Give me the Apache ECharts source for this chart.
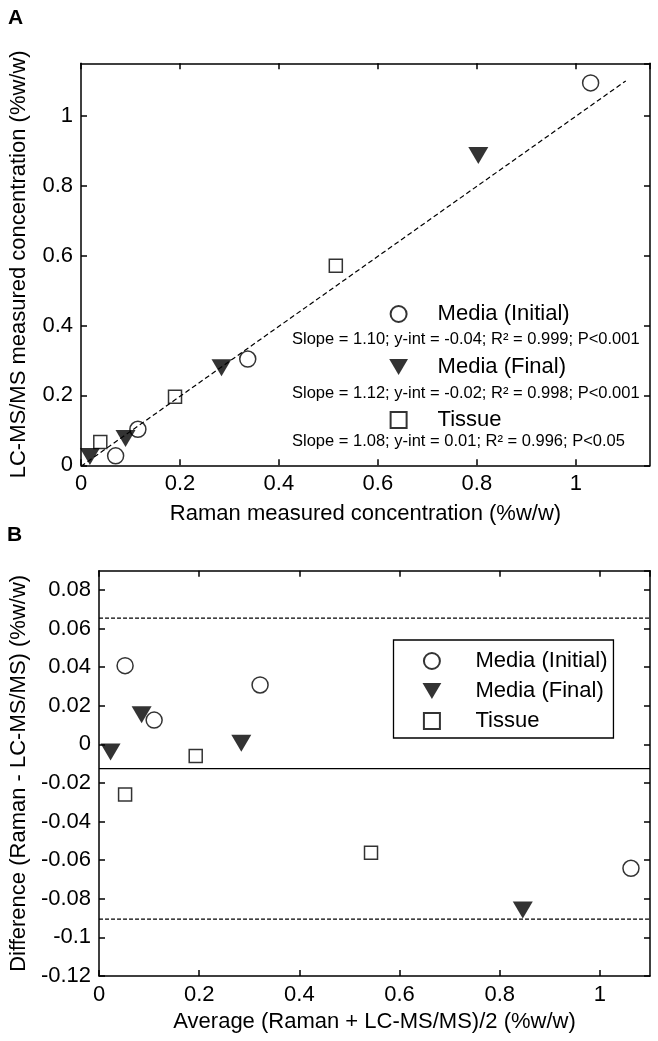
<!DOCTYPE html>
<html>
<head>
<meta charset="utf-8">
<script src="https://cdn.jsdelivr.net/npm/echarts@6/dist/echarts.min.js"></script>
<style>
html,body{margin:0;padding:0;background:#fff;}
#chart{width:658px;height:1041px;}
</style>
</head>
<body>
<div id="chart"></div>
<script>
// ---------- Data ----------
const seriesNames = ['Media (Initial)', 'Media (Final)', 'Tissue'];

// Panel A: Raman (x) vs LC-MS/MS (y), %w/w
const mediaInitialA = [[1.030, 1.094], [0.337, 0.304], [0.115, 0.103], [0.070, 0.027]];
const mediaFinalA   = [[0.803, 0.886], [0.284, 0.279], [0.090, 0.077], [0.018, 0.025]];
const tissueA       = [[0.515, 0.571], [0.190, 0.196], [0.039, 0.067]];
const fitLineA      = [[0.0, -0.003], [1.101, 1.0995]];
const statsA = [
  'Slope = 1.10; y-int = -0.04; R\u00B2 = 0.999; P<0.001',
  'Slope = 1.12; y-int = -0.02; R\u00B2 = 0.998; P<0.001',
  'Slope = 1.08; y-int = 0.01; R\u00B2 = 0.996; P<0.05'
];

// Panel B: Bland-Altman, average (x) vs difference (y)
const mediaInitialB = [[0.052, 0.0408], [0.110, 0.0126], [0.3215, 0.0308], [1.062, -0.0642]];
const mediaFinalB   = [[0.023, -0.0039], [0.085, 0.0153], [0.284, 0.0006], [0.846, -0.0858]];
const tissueB       = [[0.193, -0.0060], [0.052, -0.0259], [0.543, -0.0561]];
const meanDiffB = -0.0126;
const upperLimitB = 0.0654;
const lowerLimitB = -0.0905;
const xRangeB = [0, 1.1];

// ---------- Styles ----------
const FONT = 'Liberation Sans, Arial, sans-serif';
const FS = 22;
const black = '#000';
const triPath = 'path://M0,0L20,0L10,17Z';
const sqPath = 'path://M0,0L10,0L10,10L0,10Z';

function markerSeries(name, data, xi, yi) {
  const base = {
    name: name, type: 'scatter', xAxisIndex: xi, yAxisIndex: yi, data: data,
    z: 5, emphasis: {disabled: true}
  };
  if (name === 'Media (Initial)') {
    base.symbol = 'circle'; base.symbolSize = 16;
    base.itemStyle = {color: 'rgba(0,0,0,0)', borderColor: black, borderWidth: 1.5};
  } else if (name === 'Media (Final)') {
    base.symbol = triPath; base.symbolSize = [20, 17];
    base.itemStyle = {color: black, borderColor: black, borderWidth: 0};
  } else {
    base.symbol = sqPath; base.symbolSize = 13;
    base.itemStyle = {color: 'rgba(0,0,0,0)', borderColor: black, borderWidth: 1.5};
  }
  return base;
}

function lineSeries(data, xi, yi, type, width) {
  return {
    type: 'line', xAxisIndex: xi, yAxisIndex: yi, data: data, symbol: 'none',
    silent: true, z: 3, animation: false,
    lineStyle: {color: black, width: width, type: type}
  };
}

function valAxis(opts) {
  const a = {
    type: 'value', gridIndex: opts.grid, position: opts.position,
    min: opts.min, max: opts.max, interval: opts.interval,
    axisLine: {show: true, onZero: false, lineStyle: {color: black, width: 1.5}},
    axisTick: {show: true, inside: true, length: 6, lineStyle: {color: black, width: 1.5}},
    splitLine: {show: false},
    axisLabel: {show: !!opts.labels, color: black, fontSize: FS, fontFamily: FONT, margin: 8,
                showMaxLabel: false, showMinLabel: true},
  };
  if (opts.name) {
    a.name = opts.name; a.nameLocation = 'middle'; a.nameGap = opts.nameGap;
    a.nameTextStyle = {color: black, fontSize: FS, fontFamily: FONT};
  }
  return a;
}

const option = {
  animation: false,
  backgroundColor: '#fff',
  grid: [
    {left: 80.7, top: 63.3, right: 8, height: 402},
    {left: 93.3, top: 570.7, right: 8, height: 405.3}
  ],
  xAxis: [
    valAxis({grid: 0, position: 'bottom', min: 0, max: 1.15, interval: 0.2, labels: true,
             name: 'Raman measured concentration (%w/w)', nameGap: 38}),
    valAxis({grid: 0, position: 'top', min: 0, max: 1.15, interval: 0.2}),
    valAxis({grid: 1, position: 'bottom', min: xRangeB[0], max: xRangeB[1], interval: 0.2, labels: true,
             name: 'Average (Raman + LC-MS/MS)/2 (%w/w)', nameGap: 35}),
    valAxis({grid: 1, position: 'top', min: xRangeB[0], max: xRangeB[1], interval: 0.2})
  ],
  yAxis: [
    valAxis({grid: 0, position: 'left', min: 0, max: 1.15, interval: 0.2, labels: true,
             name: 'LC-MS/MS measured concentration (%w/w)', nameGap: 51}),
    valAxis({grid: 0, position: 'right', min: 0, max: 1.15, interval: 0.2}),
    valAxis({grid: 1, position: 'left', min: -0.12, max: 0.09, interval: 0.02, labels: true,
             name: 'Difference (Raman - LC-MS/MS) (%w/w)', nameGap: 63}),
    valAxis({grid: 1, position: 'right', min: -0.12, max: 0.09, interval: 0.02})
  ],
  legend: [
    {
      data: seriesNames, orient: 'vertical', left: 389.2, top: 303,
      itemWidth: 68, itemHeight: 16, itemGap: 31, padding: 0,
      selectedMode: false,
      textStyle: {color: black, fontSize: FS, fontFamily: FONT, lineHeight: 22}
    },
    {
      data: seriesNames, orient: 'vertical', left: 393.5, top: 640,
      itemWidth: 77, itemHeight: 16, itemGap: 8, padding: [10, 6, 6, 29],
      selectedMode: false,
      borderColor: black, borderWidth: 1.3, backgroundColor: '#fff',
      textStyle: {color: black, fontSize: FS, fontFamily: FONT, lineHeight: 22}
    }
  ],
  graphic: [
    {type: 'text', x: 8, y: 18, style: {text: 'A', fill: black, font: 'bold 21px ' + FONT, verticalAlign: 'middle'}},
    {type: 'text', x: 7, y: 535, style: {text: 'B', fill: black, font: 'bold 21px ' + FONT, verticalAlign: 'middle'}},
    {type: 'text', x: 292, y: 339, z: 10, style: {text: statsA[0], fill: black, font: '16.5px ' + FONT, verticalAlign: 'middle'}},
    {type: 'text', x: 292, y: 393, z: 10, style: {text: statsA[1], fill: black, font: '16.5px ' + FONT, verticalAlign: 'middle'}},
    {type: 'text', x: 292, y: 441, z: 10, style: {text: statsA[2], fill: black, font: '16.5px ' + FONT, verticalAlign: 'middle'}}
  ],
  series: [
    lineSeries(fitLineA, 0, 0, [5, 3], 1.2),
    markerSeries('Media (Initial)', mediaInitialA, 0, 0),
    markerSeries('Media (Final)', mediaFinalA, 0, 0),
    markerSeries('Tissue', tissueA, 0, 0),
    lineSeries([[xRangeB[0], upperLimitB], [xRangeB[1], upperLimitB]], 2, 2, [4, 2], 1.2),
    lineSeries([[xRangeB[0], meanDiffB], [xRangeB[1], meanDiffB]], 2, 2, 'solid', 1.3),
    lineSeries([[xRangeB[0], lowerLimitB], [xRangeB[1], lowerLimitB]], 2, 2, [4, 2], 1.2),
    markerSeries('Media (Initial)', mediaInitialB, 2, 2),
    markerSeries('Media (Final)', mediaFinalB, 2, 2),
    markerSeries('Tissue', tissueB, 2, 2)
  ]
};

const chart = echarts.init(document.getElementById('chart'), null, {renderer: 'canvas'});
chart.setOption(option);
</script>
</body>
</html>
